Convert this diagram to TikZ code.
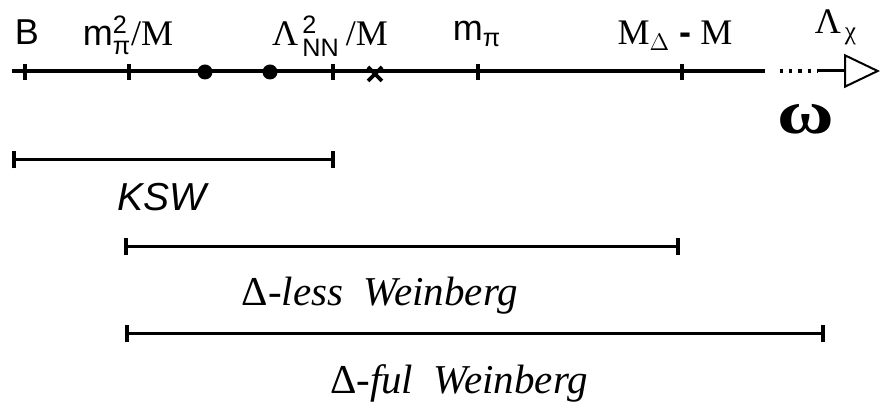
\documentclass[tikz,border=0pt]{standalone}
\usepackage{amsmath}
\usepackage{fontspec}
\setmainfont{Liberation Serif}
\setsansfont{Liberation Sans}
\usetikzlibrary{positioning,arrows.meta}

\begin{document}
\begin{tikzpicture}[x=0.5pt,y=-0.5pt,
  axis/.style={line width=2pt},
  tickmark/.style={line width=2pt},
  spanbar/.style={line width=1.5pt,
    {Bar[width=8.5pt,line width=2pt]}-{Bar[width=8.5pt,line width=2pt]}},
  sflab/.style={anchor=base,inner sep=0pt,font=\fontsize{18}{21}\selectfont\sffamily},
  rmlab/.style={anchor=base,inner sep=0pt,font=\fontsize{18}{21}\selectfont\rmfamily},
  spanlab/.style={anchor=base,inner sep=0pt,font=\fontsize{20.5}{24}\selectfont\rmfamily}]
\useasboundingbox (0,0) rectangle (883,410);
% energy axis
\coordinate (start) at (12,71);
\coordinate (solidend) at (765,71);
\coordinate (dotstart) at (780,71);
\coordinate (dotend) at (817,71);
\coordinate (tip) at (880,71);
\coordinate (tb) at (25,71);
\coordinate (tmpisq) at (129,71);
\coordinate (tlnn) at (333,71);
\coordinate (tmpi) at (478,71);
\coordinate (tmdel) at (682,71);
\draw[axis] (start) -- (solidend);
\draw[line width=1.6pt,dash pattern=on 1.6pt off 3pt] (dotstart) -- (dotend);
\draw[line width=1.5pt,-{Triangle[open,length=18pt,width=17pt,line width=1pt]}] (dotend) -- (tip);
\foreach \t in {tb,tmpisq,tlnn,tmpi,tmdel}
  \draw[tickmark] ([yshift=3.5pt]\t) -- ([yshift=-4.5pt]\t);
\fill (205,72) circle (3.75pt);
\fill (270,72) circle (3.75pt);
\draw[line width=1.9pt] (368,67) -- (382,81) (368,81) -- (382,67);
% scale labels
\node[sflab] (lb) at (27,45) {B};
\node[rmlab] (lmpisq) at (128,46) {{\sffamily m$^{\text{2}}_{\text{π}}$}/M};
\node[rmlab] (llnn) at (330,46) {Λ$^{\,\text{\sffamily 2}}_{\,\text{\sffamily NN}}$\,/M};
\node[sflab] (lmpi) at (477,41) {m$_{\text{π}}$};
\node[rmlab] (lmdel) at (675,45) {M$_{\Delta}$\ {\sffamily\bfseries -}\ M};
\node[rmlab] (lchi) at (836,34) {Λ$_{\,\text{χ}}$};
\node[anchor=base,inner sep=0pt,xscale=1.25,font=\fontsize{31}{33}\selectfont\bfseries] (omega) at (806,134) {ω};
% ranges of the schemes
\coordinate (kswl) at (12,160);
\coordinate (kswr) at (335,160);
\coordinate (lessl) at (124,247);
\coordinate (lessr) at (680,247);
\coordinate (full) at (125,334);
\coordinate (fulr) at (825,334);
\draw[spanbar] (kswl) -- (kswr);
\draw[spanbar] (lessl) -- (lessr);
\draw[spanbar] (full) -- (fulr);
\node[sflab,font=\fontsize{19.5}{22}\selectfont\sffamily\itshape] (ksw) at (162,211) {KSW};
\node[spanlab] (less) at (380,306) {Δ\textit{-less\ \ Weinberg}};
\node[spanlab] (ful) at (459,394) {Δ\textit{-ful\ \ Weinberg}};
\end{tikzpicture}
\end{document}
